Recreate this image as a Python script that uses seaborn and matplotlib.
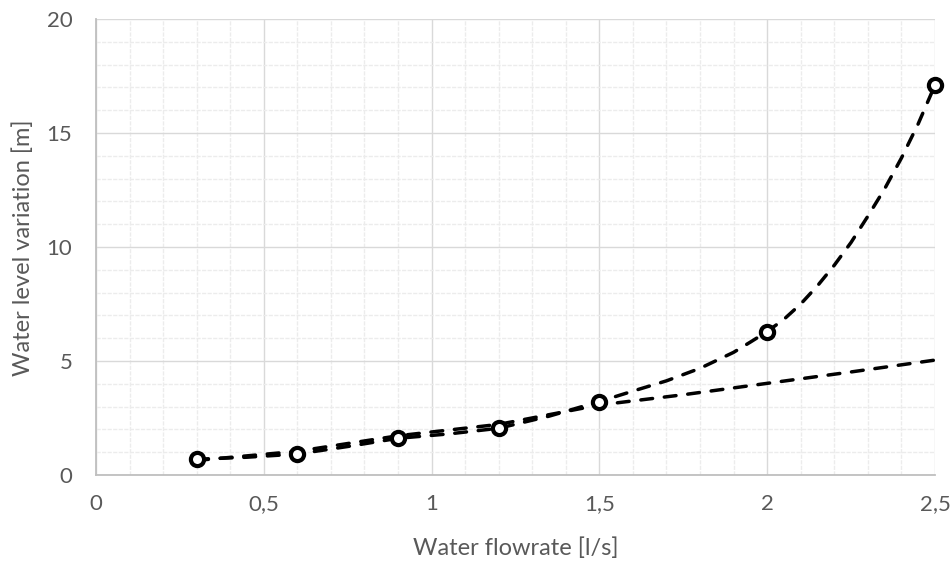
import numpy as np
import pandas as pd
import matplotlib
matplotlib.use("Agg")
import matplotlib.pyplot as plt
import matplotlib.ticker as mticker
import seaborn as sns

# ── Data ───────────────────────────────────────────────────────────────────────
flow = [0.3, 0.6, 0.9, 1.2, 1.5, 2.0, 2.5]
level = [0.69, 0.92, 1.61, 2.05, 3.22, 6.29, 17.1]

# smoothed curve through the measurements
smooth_x = [0.3, 0.45, 0.6, 0.75, 0.9, 1.05, 1.2, 1.35, 1.5, 1.6, 1.7, 1.8,
            1.9, 1.95, 2.0, 2.05, 2.1, 2.15, 2.2, 2.25, 2.3, 2.35,
            2.4, 2.45, 2.5]
smooth_y = [0.69, 0.78, 0.92, 1.25, 1.61, 1.80, 2.05, 2.58, 3.22, 3.68, 4.13,
            4.68, 5.38, 5.83, 6.29, 6.83, 7.50, 8.30, 9.20, 10.2, 11.35,
            12.55, 13.9, 15.4, 17.1]

# trend line
trend_x = [0.3, 0.6, 0.9, 1.2, 1.5, 1.75, 2.0, 2.25, 2.5]
trend_y = [0.64, 1.04, 1.72, 2.22, 3.07, 3.52, 4.02, 4.52, 5.04]

xticks = [0, 0.5, 1, 1.5, 2, 2.5]
yticks = [0, 5, 10, 15, 20]

# ── Style ──────────────────────────────────────────────────────────────────────
sns.set_theme(style="white")
plt.rcParams["font.family"] = ["Lato", "DejaVu Sans"]
TEXT = "#595959"

fig = plt.figure(figsize=(9.52, 5.62), dpi=100)
ax = fig.add_axes([0.1008, 0.1548, 0.8813, 0.8114])

line_kw = dict(color="black", linewidth=2.5, dashes=(3.4, 3.4),
               dash_capstyle="round", sort=False, estimator=None, ax=ax)
sns.lineplot(x=smooth_x, y=smooth_y, **line_kw)
sns.lineplot(x=trend_x, y=trend_y, **line_kw)

df = pd.DataFrame({"flow": flow, "level": level})
ax.plot(df["flow"], df["level"], linestyle="none", marker="o", markersize=9.5,
        markerfacecolor="white", markeredgecolor="black",
        markeredgewidth=3.0, zorder=5, clip_on=False)

ax.set_xlim(0, 2.5)
ax.set_ylim(0, 20)
ax.set_xticks(xticks)
ax.set_yticks(yticks)
ax.xaxis.set_minor_locator(mticker.MultipleLocator(0.1))
ax.yaxis.set_minor_locator(mticker.MultipleLocator(1))
ax.xaxis.set_major_formatter(mticker.FuncFormatter(
    lambda v, _: f"{v:g}".replace(".", ",")))

ax.grid(which="major", color="#d9d9d9", linewidth=1.0)
ax.grid(which="minor", color="#ececec", linewidth=1.0, linestyle=(0, (3, 1)))
ax.set_axisbelow(True)

for side in ["top", "right"]:
    ax.spines[side].set_visible(False)
for side in ["left", "bottom"]:
    ax.spines[side].set_color("#bfbfbf")
    ax.spines[side].set_linewidth(1.3)

ax.tick_params(which="both", length=0, labelsize=16, colors=TEXT)
ax.tick_params(axis="x", pad=14)
ax.tick_params(axis="y", pad=17)
ax.set_xlabel("Water flowrate [l/s]", fontsize=17, color=TEXT)
ax.set_ylabel("Water level variation [m]", fontsize=17, color=TEXT)
ax.xaxis.set_label_coords(0.5416, 0.044, transform=fig.transFigure)
ax.yaxis.set_label_coords(0.036, 0.56, transform=fig.transFigure)

fig.savefig("out.png", dpi=100)
